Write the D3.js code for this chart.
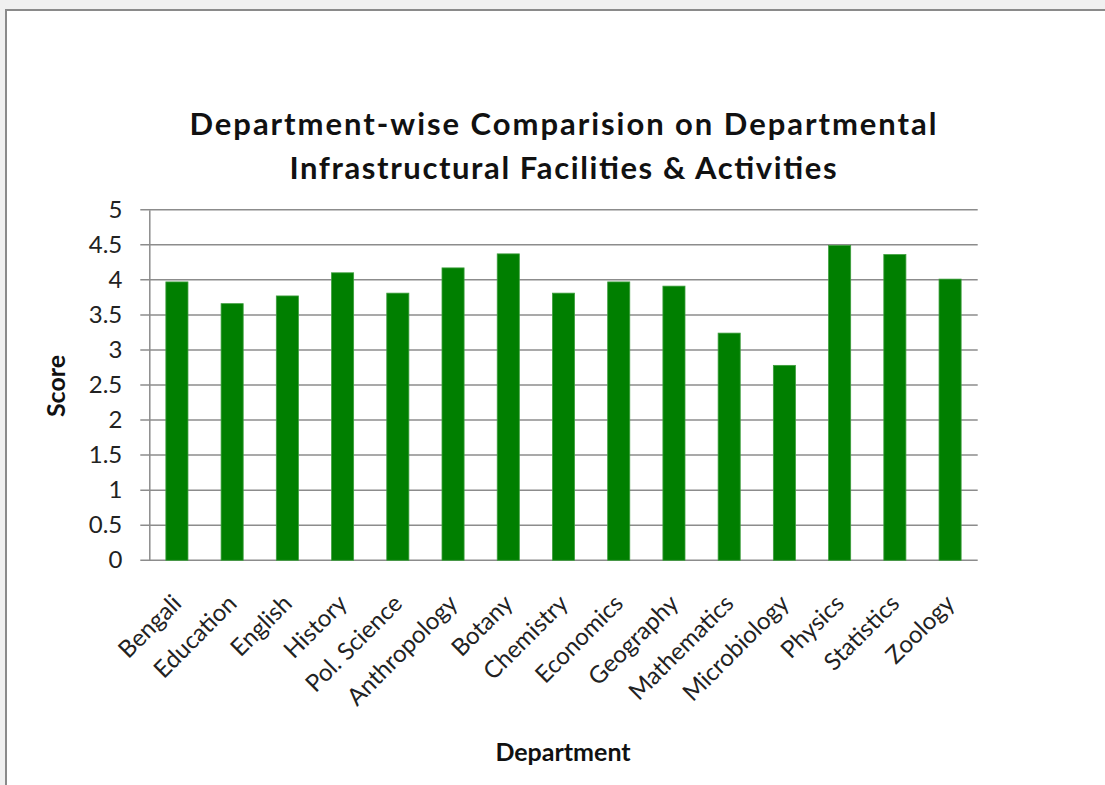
<!DOCTYPE html>
<html>
<head>
<meta charset="utf-8">
<script src="https://cdn.jsdelivr.net/npm/d3@7"></script>
<style>
  html, body { margin: 0; padding: 0; background: #f0f0f0; }
  svg { display: block; }
</style>
</head>
<body>
<svg id="chart" width="1105" height="785"></svg>
<script>
const categories = ["Bengali", "Education", "English", "History", "Pol. Science", "Anthropology", "Botany", "Chemistry", "Economics", "Geography", "Mathematics", "Microbiology", "Physics", "Statistics", "Zoology"];
const scores = [3.97, 3.66, 3.77, 4.10, 3.81, 4.17, 4.37, 3.81, 3.97, 3.91, 3.24, 2.78, 4.49, 4.36, 4.01];
const yTicks = [0, 0.5, 1, 1.5, 2, 2.5, 3, 3.5, 4, 4.5, 5];
const titleLines = ["Department-wise Comparision on Departmental", "Infrastructural Facilities & Activities"];
const xTitle = "Department";
const yTitle = "Score";

const svg = d3.select("#chart");
const font = "Lato, 'Open Sans', sans-serif";

// frame
svg.append("rect").attr("x", 0).attr("y", 0).attr("width", 1105).attr("height", 785).attr("fill", "#f0f0f0");
svg.append("rect").attr("x", 6).attr("y", 10).attr("width", 1105).attr("height", 785).attr("fill", "#ffffff");
svg.append("line").attr("x1", 5).attr("x2", 1105).attr("y1", 10).attr("y2", 10).attr("stroke", "#8a8a8a").attr("stroke-width", 2);
svg.append("line").attr("x1", 6).attr("x2", 6).attr("y1", 9).attr("y2", 785).attr("stroke", "#8a8a8a").attr("stroke-width", 2);

const plotLeft = 149.3, plotRight = 977.7, plotTop = 209.7, plotBottom = 560.3;

const x = d3.scaleBand().domain(categories).range([plotLeft, plotRight]).paddingInner(0.6).paddingOuter(0.3);
const y = d3.scaleLinear().domain([0, 5]).range([plotBottom, plotTop]);

// gridlines
svg.append("g").selectAll("line").data(yTicks).join("line")
  .attr("x1", plotLeft - 9).attr("x2", plotRight)
  .attr("y1", d => y(d)).attr("y2", d => y(d))
  .attr("stroke", "#8c8c8c").attr("stroke-width", 1.5);

// y axis
const yAxis = svg.append("g").attr("transform", `translate(${plotLeft},0)`)
  .call(d3.axisLeft(y).tickValues(yTicks).tickSize(0).tickPadding(27).tickFormat(d3.format("~g")));
yAxis.select(".domain").attr("stroke", "#8c8c8c").attr("stroke-width", 1.5);
yAxis.selectAll("text").attr("font-family", font).attr("font-size", 24).attr("fill", "#222");

// bars
svg.append("g").selectAll("rect").data(categories).join("rect")
  .attr("x", d => x(d)).attr("width", x.bandwidth())
  .attr("y", (d, i) => y(scores[i])).attr("height", (d, i) => y(0) - y(scores[i]))
  .attr("fill", "#007f00").attr("stroke", "#3d9e3d").attr("stroke-width", 0.8);

// x labels
svg.append("g").selectAll("text").data(categories).join("text")
  .attr("transform", d => `translate(${x(d) + x.bandwidth() / 2 + 6},605) rotate(-45)`)
  .attr("text-anchor", "end")
  .attr("font-family", font).attr("font-size", 24).attr("fill", "#222")
  .text(d => d);

// title
const titleWidths = [747, 547];
svg.append("g").selectAll("text").data(titleLines).join("text")
  .attr("x", 563).attr("y", (d, i) => 135 + i * 44)
  .attr("text-anchor", "middle")
  .attr("textLength", (d, i) => titleWidths[i]).attr("lengthAdjust", "spacing")
  .attr("font-family", font).attr("font-weight", "bold").attr("font-size", 31).attr("fill", "#111")
  .text(d => d);

// axis titles
svg.append("text").attr("x", 563).attr("y", 761).attr("text-anchor", "middle")
  .attr("font-family", font).attr("font-weight", "bold").attr("font-size", 25).attr("fill", "#111")
  .text(xTitle);
svg.append("text").attr("transform", "translate(65,386) rotate(-90)").attr("text-anchor", "middle")
  .attr("font-family", font).attr("font-weight", "bold").attr("font-size", 25).attr("fill", "#111")
  .text(yTitle);
</script>
</body>
</html>
